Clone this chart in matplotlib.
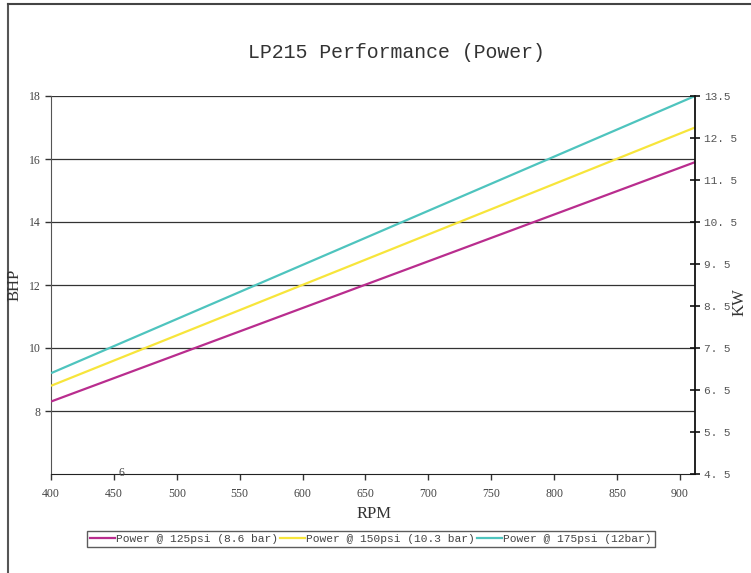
import matplotlib
matplotlib.use("Agg")
import matplotlib.pyplot as plt
from matplotlib.lines import Line2D

rpm = [400, 912]
bhp_125 = [8.3, 15.9]
bhp_150 = [8.8, 17.0]
bhp_175 = [9.2, 18.0]
series_labels = ["Power @ 125psi (8.6 bar)", "Power @ 150psi (10.3 bar)", "Power @ 175psi (12bar)"]
x_ticks = [400, 450, 500, 550, 600, 650, 700, 750, 800, 850, 900]
y_ticks = [8, 10, 12, 14, 16, 18]
kw_ticks = [4.5, 5.5, 6.5, 7.5, 8.5, 9.5, 10.5, 11.5, 12.5, 13.5]
kw_labels = ["4. 5", "5. 5", "6. 5", "7. 5", "8. 5", "9. 5", "10. 5", "11. 5", "12. 5", "13.5"]

colors = ["#B92D8E", "#F7E53B", "#4EC4BE"]
serif = ["Liberation Serif", "DejaVu Serif"]
mono = ["Liberation Mono", "DejaVu Sans Mono"]

fig = plt.figure(figsize=(7.51, 5.73), dpi=100)
W, H = 751, 573
ax = fig.add_axes([51 / W, (H - 474) / H, 644 / W, 378 / H])

for y, c in zip([bhp_125, bhp_150, bhp_175], colors):
    ax.plot(rpm, y, color=c, lw=1.6, solid_capstyle="butt", zorder=3)

ax.set_xlim(400, 912)
ax.set_ylim(6, 18)
ax.set_xticks(x_ticks)
ax.set_yticks(y_ticks)
ax.set_xticklabels([str(v) for v in x_ticks], family=serif, fontsize=8.5, color="#444444")
ax.set_yticklabels([str(v) for v in y_ticks], family=serif, fontsize=8.5, color="#444444")
ax.tick_params(axis="both", direction="out", length=4, width=1, color="#333333")
ax.tick_params(axis="x", pad=6)
ax.grid(axis="y", color="#333333", lw=0.9)
ax.set_axisbelow(True)
for s in ["top"]:
    ax.spines[s].set_visible(False)
ax.spines["left"].set_color("#555555")
ax.spines["bottom"].set_color("#222222")
ax.spines["right"].set_visible(False)

ax2 = ax.twinx()
ax2.set_ylim(4.5, 13.5)
ax2.set_yticks(kw_ticks)
ax2.set_yticklabels(kw_labels, family=mono, fontsize=8, color="#555555")
ax2.tick_params(axis="y", direction="inout", length=7, width=1.2, color="#111111", pad=3)
for s in ["top", "left", "bottom"]:
    ax2.spines[s].set_visible(False)
ax2.spines["right"].set_color("#111111")
ax2.spines["right"].set_linewidth(1.3)

fig.text(396 / W, 1 - 52 / H, "LP215 Performance (Power)", family=mono, fontsize=14.3,
         color="#333333", ha="center", va="center")
fig.text(15 / W, 1 - 285 / H, "BHP", family=serif, fontsize=12, rotation=90,
         ha="center", va="center", color="#333333")
fig.text(374 / W, 1 - 514 / H, "RPM", family=serif, fontsize=12,
         ha="center", va="center", color="#333333")
fig.text(740 / W, 1 - 302 / H, "KW", family=serif, fontsize=12, rotation=90,
         ha="center", va="center", color="#333333")
fig.text(121 / W, 1 - 473 / H, "6", family=serif, fontsize=8.5, color="#444444",
         ha="center", va="center")

# outer frame (left and top edges)
fig.add_artist(Line2D([8 / W, 8 / W], [0, 1 - 4 / H], color="#555555", lw=1.5))
fig.add_artist(Line2D([8 / W, 1], [1 - 4 / H, 1 - 4 / H], color="#444444", lw=1.5))

handles = [Line2D([], [], color=c, lw=1.6) for c in colors]
leg = fig.legend(handles, series_labels, loc="center", bbox_to_anchor=(371 / W, 1 - 539 / H),
                 ncol=3, frameon=True, fancybox=False, edgecolor="#333333",
                 prop={"family": mono, "size": 8.1}, handlelength=2.2, handletextpad=0.1,
                 columnspacing=0.2, borderpad=0.3, labelcolor="#444444")
leg.get_frame().set_linewidth(1.0)

fig.savefig("out.png", dpi=100, facecolor="white")
